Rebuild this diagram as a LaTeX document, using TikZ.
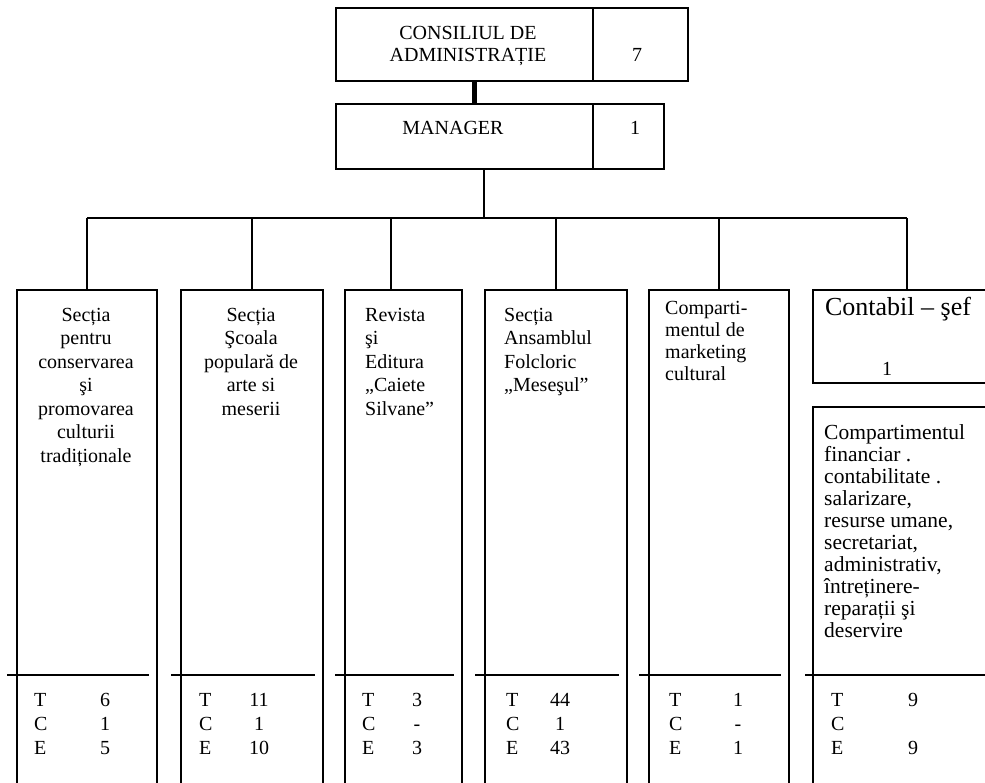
\documentclass[tikz,border=0pt]{standalone}
\usepackage{fontspec}
\setmainfont{Liberation Serif}
\usetikzlibrary{calc}
\begin{document}
\begin{tikzpicture}[x=1pt,y=-1pt,
  box/.style={draw,line width=1.8pt,inner sep=0,anchor=north west},
  conn/.style={line width=1.8pt},
  txt/.style={inner sep=0,font=\fontsize{20}{23.5}\selectfont},
  txtb/.style={inner sep=0,font=\fontsize{20}{22}\selectfont},
  txtc/.style={inner sep=0,font=\fontsize{21.5}{22}\selectfont},
  tce/.style={inner sep=0,font=\fontsize{20}{24}\selectfont},
  big/.style={inner sep=0,font=\fontsize{26}{30}\selectfont}
]
\useasboundingbox (0,0) rectangle (985,782);
% boxes
\node[box,minimum width=352pt,minimum height=73pt] (cons) at (335,7) {};
\node[box,minimum width=328pt,minimum height=65pt] (mgr) at (335,103) {};
\node[box,minimum width=140pt,minimum height=520pt] (c1) at (16,289) {};
\node[box,minimum width=142pt,minimum height=520pt] (c2) at (180,289) {};
\node[box,minimum width=117pt,minimum height=520pt] (c3) at (344,289) {};
\node[box,minimum width=142pt,minimum height=520pt] (c4) at (484,289) {};
\node[box,minimum width=140pt,minimum height=520pt] (c5) at (648,289) {};
\node[box,minimum width=188pt,minimum height=93pt] (c6a) at (812,289) {};
\node[box,minimum width=188pt,minimum height=420pt] (c6b) at (812,406) {};
% helper coordinates
\coordinate (dv) at (593,0);
\coordinate (tc) at (474,0);
\coordinate (bus) at (484,218);
\coordinate (d3) at (391,0);
\coordinate (dl) at (0,675);
% dividers in top boxes
\draw[conn] (cons.north -| dv) -- (cons.south -| dv);
\draw[conn] (mgr.north -| dv) -- (mgr.south -| dv);
% connectors
\draw[line width=5pt] (cons.south -| tc) -- (mgr.north -| tc);
\draw[conn] (mgr.south -| bus) -- (bus);
\draw[conn] (c1.north |- bus) -- (c6a.north |- bus);
\draw[conn] (c1.north |- bus) -- (c1.north);
\draw[conn] (c2.north |- bus) -- (c2.north);
\draw[conn] (d3 |- bus) -- (d3 |- c3.north);
\draw[conn] (c4.north |- bus) -- (c4.north);
\draw[conn] (c5.north |- bus) -- (c5.north);
\draw[conn] (c6a.north |- bus) -- (c6a.north);
% bottom dividers
\foreach \c in {c1,c2,c3,c4,c5}{
  \draw[conn] ($(\c.north west |- dl)+(-9,0)$) -- ($(\c.north east |- dl)+(-9,0)$);
}
\draw[conn] ($(c6b.north west |- dl)+(-7,0)$) -- (985,675);
% top texts
\node[txtb,align=center,anchor=north] (tcons) at (468,24.1) {\strut CONSILIUL DE\\ADMINISTRAȚIE};
\node[txtb,anchor=base] (tseven) at (637,61.5) {7};
\node[txtb,anchor=base] (tmgr) at (453,134.5) {MANAGER};
\node[txtb,anchor=base] (tone) at (635,134.5) {1};
% column texts
\node[txt,align=center,anchor=north] (t1) at (86,304.5) {\strut Secția\\pentru\\conservarea\\şi\\promovarea\\culturii\\tradiționale};
\node[txt,align=center,anchor=north] (t2) at (251,304.5) {\strut Secția\\Şcoala\\populară de\\arte si\\meserii};
\node[txt,align=left,anchor=north west] (t3) at (365,304.5) {\strut Revista\\şi\\Editura\\„Caiete\\Silvane”};
\node[txt,align=left,anchor=north west] (t4) at (504,304.5) {\strut Secția\\Ansamblul\\Folcloric\\„Meseşul”};
\node[txtb,align=left,anchor=north west] (t5) at (665,299) {\strut Comparti-\\mentul de\\marketing\\cultural};
\node[big,anchor=base] (t6a) at (898,315.5) {Contabil – şef};
\node[txtb,anchor=base] (t6one) at (887,375) {1};
\node[txtc,align=left,anchor=north west] (t6b) at (824,424.1) {\strut Compartimentul\\financiar .\\contabilitate .\\salarizare,\\resurse umane,\\secretariat,\\administrativ,\\întreținere-\\reparații şi\\deservire};
% T C E
\node[tce,align=left,anchor=north west] (l1) at (34,689.7) {\strut T\\C\\E};
\node[tce,align=center,anchor=north] (n1) at (105,689.7) {\strut 6\\1\\5};
\node[tce,align=left,anchor=north west] (l2) at (199,689.7) {\strut T\\C\\E};
\node[tce,align=center,anchor=north] (n2) at (259,689.7) {\strut 11\\1\\10};
\node[tce,align=left,anchor=north west] (l3) at (362,689.7) {\strut T\\C\\E};
\node[tce,align=center,anchor=north] (n3) at (417,689.7) {\strut 3\\-\\3};
\node[tce,align=left,anchor=north west] (l4) at (506,689.7) {\strut T\\C\\E};
\node[tce,align=center,anchor=north] (n4) at (560,689.7) {\strut 44\\1\\43};
\node[tce,align=left,anchor=north west] (l5) at (669,689.7) {\strut T\\C\\E};
\node[tce,align=center,anchor=north] (n5) at (738,689.7) {\strut 1\\-\\1};
\node[tce,align=left,anchor=north west] (l6) at (831,689.7) {\strut T\\C\\E};
\node[tce,align=center,anchor=north] (n6) at (913,689.7) {\strut 9\\\strut\\9};
\end{tikzpicture}
\end{document}
